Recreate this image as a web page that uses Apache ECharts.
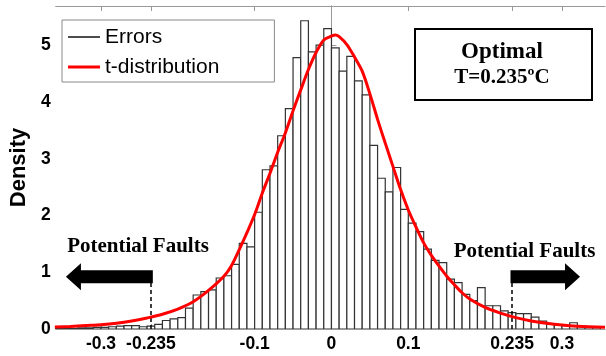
<!DOCTYPE html>
<html><head><meta charset="utf-8">
<script src="https://cdn.jsdelivr.net/npm/echarts@6/dist/echarts.min.js"></script>
<style>html,body{margin:0;padding:0;background:#fff}#c{width:606px;height:356px}</style>
</head><body><div id="c"></div>
<script>
// Histogram bins (lower edges, width 0.01) and densities
const binStarts = [-0.36,-0.35,-0.34,-0.33,-0.32,-0.31,-0.30,-0.29,-0.28,-0.27,-0.26,-0.25,-0.24,-0.23,-0.22,-0.21,-0.20,-0.19,-0.18,-0.17,-0.16,-0.15,-0.14,-0.13,-0.12,-0.11,-0.10,-0.09,-0.08,-0.07,-0.06,-0.05,-0.04,-0.03,-0.02,-0.01,0.00,0.01,0.02,0.03,0.04,0.05,0.06,0.07,0.08,0.09,0.10,0.11,0.12,0.13,0.14,0.15,0.16,0.17,0.18,0.19,0.20,0.21,0.22,0.23,0.24,0.25,0.26,0.27,0.28,0.29,0.30,0.31,0.32,0.33,0.34];
const binWidth = 0.01;
const densities = [0.01,0.01,0.01,0.02,0.02,0.03,0.03,0.04,0.05,0.06,0.06,0.04,0.05,0.08,0.15,0.18,0.20,0.37,0.60,0.66,0.69,0.90,0.94,1.14,1.51,1.45,2.06,2.81,2.88,3.41,3.89,4.79,5.44,4.89,5.01,5.30,4.96,4.55,4.81,4.38,4.13,3.24,2.66,2.42,2.85,2.11,1.87,1.72,1.41,1.21,1.17,0.88,0.82,0.61,0.50,0.73,0.41,0.41,0.32,0.29,0.27,0.27,0.21,0.14,0.08,0.07,0.06,0.11,0.05,0.04,0.03];

// Fitted t-distribution curve
const curveX = [-0.36,-0.34,-0.32,-0.30,-0.28,-0.26,-0.24,-0.22,-0.20,-0.18,-0.16,-0.14,-0.13,-0.12,-0.11,-0.10,-0.09,-0.08,-0.07,-0.06,-0.05,-0.04,-0.03,-0.02,-0.01,0.00,0.005,0.01,0.02,0.03,0.04,0.05,0.06,0.07,0.08,0.09,0.10,0.11,0.12,0.13,0.14,0.15,0.16,0.17,0.18,0.20,0.22,0.24,0.26,0.28,0.30,0.32,0.356];
const curveY = [0.035,0.045,0.06,0.075,0.10,0.14,0.195,0.26,0.35,0.48,0.68,0.93,1.12,1.40,1.70,2.02,2.40,2.75,3.12,3.46,3.85,4.22,4.58,4.88,5.10,5.17,5.19,5.16,5.02,4.80,4.55,4.15,3.70,3.28,2.87,2.46,2.10,1.80,1.52,1.30,1.11,0.93,0.78,0.64,0.53,0.38,0.28,0.20,0.14,0.10,0.07,0.05,0.03];

const xTickValues = [-0.3,-0.235,-0.1,0,0.1,0.235,0.3];
const faultThresholds = [-0.235, 0.235];
const dashTop = 0.81;
const arrowFrom = [-0.2325, 0.233];
const arrowTo = [-0.3456, 0.3235];
const arrowLevel = [0.92, 0.92];

const histData = binStarts.map((s, i) => [s, s + binWidth, densities[i]]);
const curveData = curveX.map((x, i) => [x, curveY[i]]);
const arrowData = arrowFrom.map((f, i) => [f, arrowTo[i], arrowLevel[i]]);

const axisGray = '#999';
const tickFont = {fontFamily: 'Liberation Sans, Arial, sans-serif', fontWeight: 'bold', fontSize: 17.5, color: '#000'};
const serif = 'Liberation Serif, Times New Roman, serif';

const chart = echarts.init(document.getElementById('c'), null, {renderer: 'canvas'});
chart.setOption({
  animation: false,
  backgroundColor: '#fff',
  grid: {left: 52, right: 1, top: 6, bottom: 27},
  xAxis: [{
    type: 'value', min: -0.359, max: 0.356, position: 'bottom',
    axisLine: {show: true, onZero: false, lineStyle: {color: axisGray, width: 1}},
    axisTick: {show: true, inside: true, length: 5, customValues: xTickValues, lineStyle: {color: axisGray}},
    axisLabel: {show: true, customValues: xTickValues, margin: 6, ...tickFont},
    splitLine: {show: false}
  }, {
    type: 'value', min: -0.359, max: 0.356, position: 'top',
    axisLine: {show: true, onZero: false, lineStyle: {color: axisGray, width: 1}},
    axisTick: {show: true, inside: true, length: 5, customValues: xTickValues, lineStyle: {color: axisGray}},
    axisLabel: {show: false},
    splitLine: {show: false}
  }],
  yAxis: [{
    type: 'value', min: 0, max: 5.7, interval: 1, position: 'left',
    name: 'Density', nameLocation: 'middle', nameGap: 19,
    nameTextStyle: {fontFamily: 'Liberation Sans, Arial, sans-serif', fontWeight: 'bold', fontSize: 22, color: '#000'},
    axisLine: {show: true, lineStyle: {color: axisGray, width: 1}},
    axisTick: {show: true, inside: true, length: 5, lineStyle: {color: axisGray}},
    axisLabel: {show: true, margin: 5, showMaxLabel: false, ...tickFont},
    splitLine: {show: false}
  }, {
    type: 'value', min: 0, max: 5.7, interval: 1, position: 'right',
    axisLine: {show: true, lineStyle: {color: axisGray, width: 1}},
    axisTick: {show: true, inside: true, length: 5, lineStyle: {color: axisGray}},
    axisLabel: {show: false},
    splitLine: {show: false}
  }],
  legend: {
    orient: 'vertical', left: 62, top: 20,
    padding: [6.5, 55, 4.5, 6],
    itemWidth: 32, itemHeight: 21, itemGap: 9,
    backgroundColor: '#fff', borderColor: '#888', borderWidth: 1, borderRadius: 0,
    textStyle: {fontFamily: 'Liberation Sans, Arial, sans-serif', fontSize: 21, color: '#000', padding: [0, 0, 0, 0]},
    data: [
      {name: 'Errors', icon: 'path://M0,0M0,9.8H32V11.2H0ZM32,21', itemStyle: {color: '#000', borderWidth: 0}},
      {name: 't-distribution', icon: 'path://M0,0M0,9H32V12H0ZM32,21', itemStyle: {color: '#ff0000', borderWidth: 0}}
    ]
  },
  series: [{
    name: 'Errors', type: 'custom', xAxisIndex: 0, yAxisIndex: 0, clip: true,
    encode: {x: [0, 1], y: 2},
    itemStyle: {color: '#fff', borderColor: '#333', borderWidth: 1.2},
    renderItem: function (params, api) {
      const p0 = api.coord([api.value(0), api.value(2)]);
      const p1 = api.coord([api.value(1), 0]);
      return {type: 'rect', shape: {x: p0[0], y: p0[1], width: p1[0] - p0[0], height: p1[1] - p0[1]},
        style: {fill: '#fff', stroke: '#333', lineWidth: 1.2}};
    },
    data: histData
  }, {
    name: 'faultArrows', type: 'custom', xAxisIndex: 0, yAxisIndex: 0, clip: false,
    encode: {x: [0, 1], y: 2},
    renderItem: function (params, api) {
      const s = api.coord([api.value(0), api.value(2)]);
      const e = api.coord([api.value(1), api.value(2)]);
      const d = e[0] > s[0] ? 1 : -1;
      const hl = 15, bh = 6.5, hh = 13.5;
      const b = e[0] - d * hl;
      return {type: 'polygon', shape: {points: [
        [s[0], s[1] - bh], [b, s[1] - bh], [b, s[1] - hh], [e[0], s[1]],
        [b, s[1] + hh], [b, s[1] + bh], [s[0], s[1] + bh]]},
        style: {fill: '#000'}};
    },
    data: arrowData
  }, {
    name: 't-distribution', type: 'line', xAxisIndex: 0, yAxisIndex: 0,
    symbol: 'none', smooth: 0.3, z: 5,
    lineStyle: {color: '#ff0000', width: 3},
    itemStyle: {color: '#ff0000'},
    data: curveData,
    markLine: {
      symbol: 'none', silent: true, label: {show: false},
      lineStyle: {type: [4, 3], color: '#000', width: 1.5},
      emphasis: {disabled: true},
      data: faultThresholds.map(t => [{coord: [t, 0]}, {coord: [t, dashTop]}])
    }
  }],
  graphic: [
    {type: 'text', z: 10, x: 138, y: 246.5, style: {text: 'Potential Faults', font: 'bold 21px ' + serif, fill: '#000', align: 'center', verticalAlign: 'middle'}},
    {type: 'text', z: 10, x: 524.5, y: 251.5, style: {text: 'Potential Faults', font: 'bold 21px ' + serif, fill: '#000', align: 'center', verticalAlign: 'middle'}},
    {type: 'rect', left: 414, top: 28, z: 10, shape: {width: 177, height: 71}, style: {fill: '#fff', stroke: '#000', lineWidth: 2}},
    {type: 'text', z: 11, x: 502, y: 52, style: {text: 'Optimal', font: 'bold 23px ' + serif, fill: '#000', align: 'center', verticalAlign: 'middle'}},
    {type: 'text', z: 11, x: 502, y: 78, style: {text: 'T=0.235\u00baC', font: 'bold 21px ' + serif, fill: '#000', align: 'center', verticalAlign: 'middle'}}
  ]
});
</script></body></html>
